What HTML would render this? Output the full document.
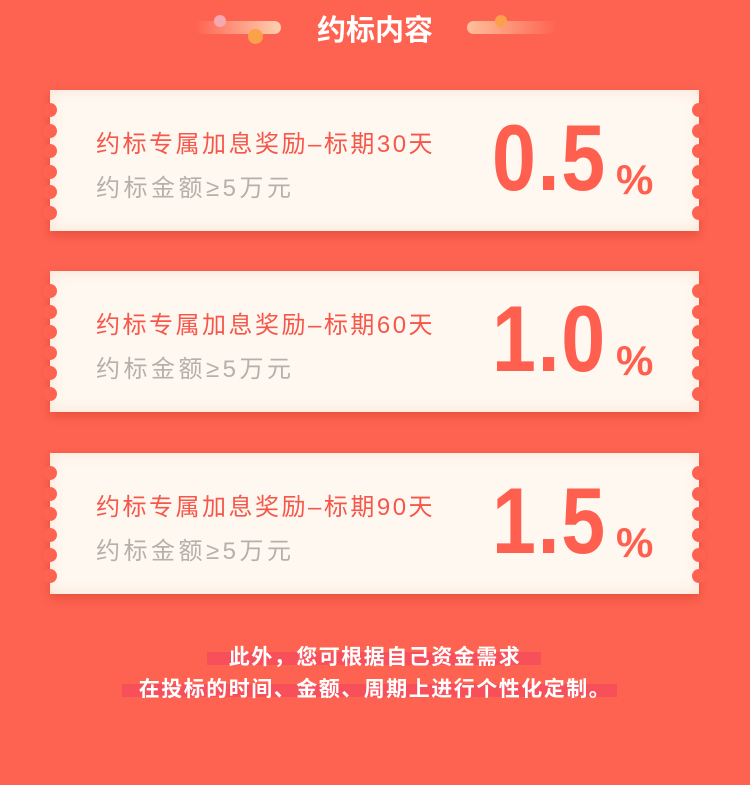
<!DOCTYPE html>
<html><head><meta charset="utf-8"><style>
body{margin:0;width:750px;height:785px;background:#fe6351;position:relative;overflow:hidden;font-family:"Liberation Sans","Noto Sans CJK SC",sans-serif}
.abs{position:absolute}
.card{position:absolute;left:50px;width:649px;height:141px;background:#fff8f0;box-shadow:0 4px 10px rgba(190,40,20,.35), inset 0 0 14px rgba(240,190,160,.35)}
.n{position:absolute;width:14px;height:14px;border-radius:50%;background:#fe6351}
.t1{position:absolute;left:46px;top:34px;font-size:24px;color:#f5584a;white-space:nowrap;letter-spacing:2.5px}
.t2{position:absolute;left:46px;top:78px;font-size:24px;color:#b4b0ab;white-space:nowrap;letter-spacing:3.5px}
.big{position:absolute;left:442px;top:14px;font-size:94px;font-weight:bold;color:#fe5f4f;transform:scaleX(0.84);transform-origin:left;letter-spacing:2px}
.pct{position:absolute;left:566px;top:66px;font-size:42px;font-weight:bold;color:#fe5f4f}
.hl{position:absolute;background:#f7505a;height:13px}
.bt{position:absolute;left:0;width:750px;text-align:center;color:#fff;font-size:21px;font-weight:bold;letter-spacing:1.5px}
</style></head><body>
<div class="abs" style="left:195px;top:21px;width:86px;height:13px;border-radius:7px;background:linear-gradient(90deg,rgba(255,220,200,0),#ffd0b0)"></div>
<div class="abs" style="left:214px;top:15px;width:12px;height:12px;border-radius:50%;background:#f6a8b0"></div>
<div class="abs" style="left:248px;top:29px;width:15px;height:15px;border-radius:50%;background:#fca14a"></div>
<div class="abs" style="left:467px;top:21px;width:90px;height:13px;border-radius:7px;background:linear-gradient(90deg,#ffc09a,rgba(255,200,170,0))"></div>
<div class="abs" style="left:495px;top:15px;width:12px;height:12px;border-radius:50%;background:#fca14a"></div>
<div class="abs" style="left:0;width:750px;top:7px;text-align:center;color:#fff;font-size:29px;font-weight:bold">约标内容</div>

<div id="cards"></div>

<div class="hl" style="left:207px;top:652px;width:334px"></div>
<div class="hl" style="left:122px;top:684px;width:495px"></div>
<div class="bt" style="top:641px">此外，您可根据自己资金需求</div>
<div class="bt" style="top:673px">在投标的时间、金额、周期上进行个性化定制。</div>

<script>
const tops=[90,271,453];
const periods=["30","60","90"];
const rates=["0.5","1.0","1.5"];
const wrap=document.getElementById('cards');
tops.forEach((t,i)=>{
  const c=document.createElement('div');c.className='card';c.style.top=t+'px';
  
  
  let h='';
  for(let k=0;k<6;k++){const y=13+k*20.6;
    h+=`<div class="n" style="left:-7px;top:${y}px"></div><div class="n" style="left:642px;top:${y}px"></div>`;}
  h+=`<div class="t1">约标专属加息奖励–标期${periods[i]}天</div>`;
  h+=`<div class="t2">约标金额≥5万元</div>`;
  h+=`<div class="big">${rates[i]}</div>`;
  h+=`<div class="pct">%</div>`;
  c.innerHTML=h;wrap.appendChild(c);
});
</script>
</body></html>
